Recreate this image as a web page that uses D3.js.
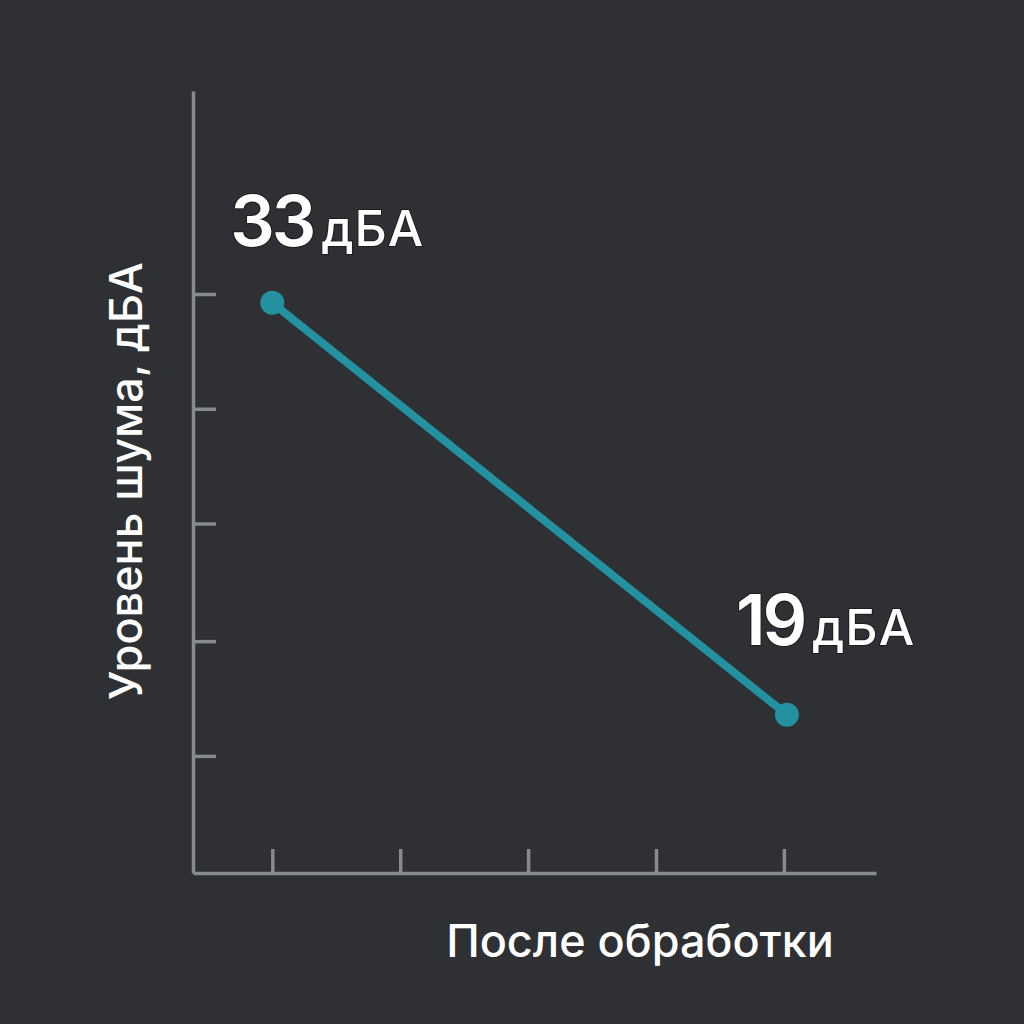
<!DOCTYPE html>
<html><head><meta charset="utf-8">
<script src="https://cdn.jsdelivr.net/npm/d3@7"></script>
<style>
html,body{margin:0;padding:0;background:#2e3034;}
svg{display:block;}
text{font-family:Inter,"Noto Sans",sans-serif;}
</style></head>
<body>
<script>
const categories = ["До обработки","","","","После обработки"];
const xTickValues = [0,1,2,3,4];
const pointIndex = [0,4];
const values = [33,19];
const unit = "дБА";
const yTickValues = [17.6,21.5,25.5,29.4,33.3];
const yTitle = "Уровень шума, дБА";
const xTitle = "После обработки";

const W=1024,H=1024;
const svg=d3.select("body").append("svg").attr("width",W).attr("height",H);
svg.append("rect").attr("width",W).attr("height",H).attr("fill","#2e3034");

const x=d3.scaleLinear().domain([-0.62,4.72]).range([193,876]);
const y=d3.scaleLinear().domain([13.62,40.2]).range([873,91]);
const axisColor="#878a8e";

const gx=svg.append("g").attr("transform","translate(0,873)")
 .call(d3.axisBottom(x).tickValues(xTickValues).tickSizeInner(-24).tickSizeOuter(0).tickFormat(""));
const gy=svg.append("g").attr("transform","translate(193,0)")
 .call(d3.axisLeft(y).tickValues(yTickValues).tickSizeInner(-23).tickSizeOuter(0).tickFormat(""));
[gx,gy].forEach(g=>{
  g.select(".domain").attr("stroke",axisColor).attr("stroke-width",3.5);
  g.selectAll(".tick line").attr("stroke",axisColor).attr("stroke-width",3.5);
});

const data=pointIndex.map((i,k)=>({i,v:values[k]}));
svg.append("path").datum(data)
 .attr("d",d3.line().x(d=>x(d.i)+(d.i===4?3:0)).y(d=>y(d.v)))
 .attr("fill","none").attr("stroke","#2391a0").attr("stroke-width",8).attr("stroke-linecap","round");
svg.selectAll("circle.pt").data(data).enter().append("circle")
 .attr("cx",d=>x(d.i)+(d.i===4?3:0)).attr("cy",d=>y(d.v)).attr("r",12).attr("fill","#2391a0");

const labelPos=[{dx:-42,dy:-57},{dx:-48,dy:-70}];
data.forEach((d,k)=>{
  const t=svg.append("text")
   .attr("x",x(d.i)+labelPos[k].dx).attr("y",y(d.v)+labelPos[k].dy)
   .attr("fill","#fff").attr("stroke","#1c1d20").attr("stroke-width",2).attr("paint-order","stroke");
  t.append("tspan").text(d.v).attr("font-size",70).attr("font-weight",600).attr("letter-spacing",-3);
  t.append("tspan").text(unit).attr("font-size",50).attr("font-weight",500).attr("letter-spacing",1).attr("dx",8);
});

svg.append("text").attr("transform","translate(142,481) rotate(-90)")
 .attr("text-anchor","middle").attr("fill","#fff").attr("font-size",45).attr("font-weight",500).text(yTitle);
svg.append("text").attr("x",640).attr("y",957)
 .attr("text-anchor","middle").attr("fill","#fff").attr("font-size",45).attr("font-weight",500).text(xTitle);
</script>
</body></html>
